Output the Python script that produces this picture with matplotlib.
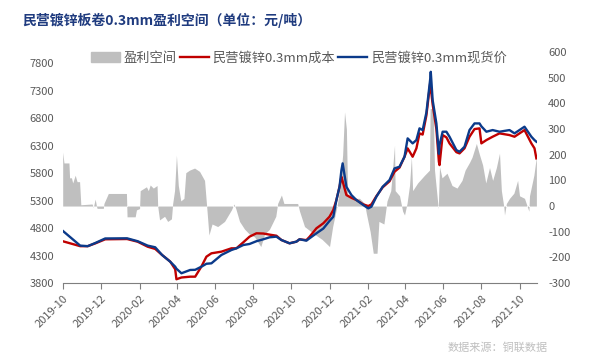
import numpy as np
import pandas as pd
import matplotlib.pyplot as plt
import matplotlib.dates as mdates
from matplotlib.patches import Patch
from matplotlib.lines import Line2D

plt.rcParams['font.family'] = ['Noto Sans CJK SC', 'DejaVu Sans']
plt.rcParams['axes.unicode_minus'] = False

# 成本与现货价（元/吨）
line_dates = ['2019-10-01', '2019-10-29', '2019-11-10', '2019-11-22', '2019-12-08',
              '2020-01-12', '2020-01-29', '2020-02-14', '2020-02-26', '2020-03-08',
              '2020-03-21', '2020-03-29', '2020-03-31', '2020-04-08', '2020-04-22',
              '2020-04-30', '2020-05-10', '2020-05-18', '2020-05-26', '2020-06-11',
              '2020-06-27', '2020-07-05', '2020-07-16', '2020-07-26', '2020-08-06',
              '2020-08-17', '2020-08-27', '2020-09-07', '2020-09-15', '2020-09-28',
              '2020-10-09', '2020-10-14', '2020-10-25', '2020-10-30', '2020-11-10',
              '2020-11-21', '2020-12-01', '2020-12-07', '2020-12-12', '2020-12-17',
              '2020-12-20', '2020-12-22', '2020-12-28', '2021-01-05', '2021-01-13',
              '2021-01-24', '2021-02-01', '2021-02-06', '2021-02-14', '2021-02-24',
              '2021-03-07', '2021-03-15', '2021-03-23', '2021-03-31', '2021-04-05',
              '2021-04-13', '2021-04-19', '2021-04-24', '2021-04-29', '2021-05-05',
              '2021-05-11', '2021-05-12', '2021-05-15', '2021-05-21', '2021-05-25',
              '2021-05-26', '2021-05-31', '2021-06-06', '2021-06-11', '2021-06-22',
              '2021-06-27', '2021-07-05', '2021-07-13', '2021-07-21', '2021-07-29',
              '2021-08-01', '2021-08-09', '2021-08-19', '2021-08-30', '2021-09-15',
              '2021-09-23', '2021-10-09', '2021-10-20', '2021-10-25', '2021-10-28']
price = [4750, 4480, 4470, 4527, 4610, 4613, 4560, 4480, 4450, 4310,
         4188, 4097, 4060, 3977, 4037, 4040, 4097, 4150, 4158, 4310,
         4400, 4431, 4491, 4510, 4560, 4595, 4631, 4643, 4582, 4522,
         4552, 4595, 4570, 4613, 4704, 4790, 4930, 5006, 5309, 5551,
         5850, 5976, 5551, 5400, 5309, 5218, 5158, 5188, 5370, 5551,
         5673, 5885, 5915, 6097, 6431, 6340, 6400, 6613, 6582, 6900,
         7500, 7642, 7127, 6703, 6150, 6310, 6552, 6552, 6461, 6218,
         6188, 6279, 6582, 6703, 6703, 6650, 6552, 6582, 6552, 6582,
         6522, 6643, 6461, 6400, 6370]
cost = [4560, 4470, 4470, 4520, 4595, 4600, 4551, 4460, 4420, 4310,
        4190, 4050, 3868, 3900, 3915, 3915, 4100, 4279, 4340, 4370,
        4431, 4431, 4540, 4643, 4704, 4700, 4680, 4660, 4582, 4522,
        4552, 4595, 4580, 4640, 4795, 4886, 5006, 5128, 5309, 5551,
        5733, 5650, 5400, 5350, 5309, 5230, 5200, 5230, 5380, 5540,
        5650, 5824, 5900, 6097, 6249, 6097, 6249, 6522, 6500, 6850,
        7430, 7350, 7050, 6600, 6006, 5945, 6491, 6450, 6340, 6180,
        6158, 6250, 6461, 6600, 6613, 6340, 6400, 6461, 6522, 6491,
        6461, 6582, 6340, 6250, 6067]

# 盈利空间（元/吨，右轴）
profit_dates = ['2019-10-01', '2019-10-03', '2019-10-11', '2019-10-12', '2019-10-15',
                '2019-10-17', '2019-10-21', '2019-10-24', '2019-10-28', '2019-10-30',
                '2019-11-17', '2019-11-19', '2019-11-22', '2019-11-24', '2019-11-25',
                '2019-12-05', '2019-12-06', '2019-12-13', '2020-01-11', '2020-01-12',
                '2020-01-25', '2020-01-27', '2020-02-01', '2020-02-02', '2020-02-12',
                '2020-02-15', '2020-02-18', '2020-02-23', '2020-02-29', '2020-03-01',
                '2020-03-04', '2020-03-12', '2020-03-17', '2020-03-23', '2020-03-25',
                '2020-03-28', '2020-03-31', '2020-04-03', '2020-04-07', '2020-04-12',
                '2020-04-15', '2020-04-21', '2020-04-29', '2020-05-07', '2020-05-15',
                '2020-05-19', '2020-05-22', '2020-05-27', '2020-06-05', '2020-06-16',
                '2020-06-27', '2020-07-01', '2020-07-04', '2020-07-10', '2020-07-18',
                '2020-07-26', '2020-08-03', '2020-08-13', '2020-08-19', '2020-08-27',
                '2020-09-06', '2020-09-09', '2020-09-15', '2020-09-19', '2020-10-11',
                '2020-10-14', '2020-10-22', '2020-11-07', '2020-11-19', '2020-12-01',
                '2020-12-06', '2020-12-13', '2020-12-17', '2020-12-22', '2020-12-25',
                '2020-12-28', '2020-12-30', '2021-01-10', '2021-01-18', '2021-01-26',
                '2021-01-29', '2021-02-04', '2021-02-09', '2021-02-15', '2021-02-18',
                '2021-02-26', '2021-03-03', '2021-03-09', '2021-03-15', '2021-03-16',
                '2021-03-23', '2021-03-28', '2021-03-31', '2021-04-04', '2021-04-08',
                '2021-04-11', '2021-04-13', '2021-04-21', '2021-05-02', '2021-05-10',
                '2021-05-11', '2021-05-16', '2021-05-18', '2021-05-24', '2021-05-26',
                '2021-05-30', '2021-06-07', '2021-06-15', '2021-06-23', '2021-07-01',
                '2021-07-06', '2021-07-13', '2021-07-17', '2021-07-24', '2021-07-29',
                '2021-08-03', '2021-08-08', '2021-08-14', '2021-08-19', '2021-08-25',
                '2021-08-30', '2021-09-02', '2021-09-06', '2021-09-07', '2021-09-10',
                '2021-09-15', '2021-09-22', '2021-09-28', '2021-10-01', '2021-10-09',
                '2021-10-16', '2021-10-17', '2021-10-24', '2021-10-28']
profit = [210, 168, 168, 110, 110, 90, 120, 95, 95, 5,
          8, -5, 27, 0, -9, -9, 10, 49, 49, -42,
          -42, -15, -10, 60, 75, 60, 82, 70, 80, 0,
          -54, -40, -60, -50, 10, 60, 198, 80, 20, 30,
          130, 140, 148, 135, 100, -20, -113, -70, -80, -60,
          -15, 8, -10, -60, -90, -110, -120, -158, -110, -90,
          -40, 10, 43, 10, 10, -20, -80, -110, -130, -158,
          -80, 0, 60, 200, 367, 300, 40, 30, 30, 10,
          -30, -100, -184, -184, -60, -70, 20, 60, 237, 60,
          40, -20, -35, 10, 80, 192, 60, 90, 120, 140,
          380, 380, 140, -10, 153, 110, 128, 80, 70, 100,
          140, 170, 190, 244, 200, 160, 90, 150, 100, 150,
          206, 60, -5, -35, 10, 30, 50, 100, 40, 30,
          -20, 40, 120, 192]

left_ticks = [3800, 4300, 4800, 5300, 5800, 6300, 6800, 7300, 7800]
right_ticks = [-300, -200, -100, 0, 100, 200, 300, 400, 500, 600]

ld = pd.to_datetime(line_dates)
pd_ = pd.to_datetime(profit_dates)

fig = plt.figure(figsize=(6, 3.63), dpi=100)
ax = fig.add_axes([0.1045, 0.2204, 0.7905, 0.636])
ax2 = ax.twinx()

ax2.fill_between(pd_, 0, profit, color='#BFBFBF', linewidth=0)
ax.plot(ld, cost, color='#C00000', linewidth=1.7)
ax.plot(ld, price, color='#0B3A8A', linewidth=1.7)

ax.set_zorder(ax2.get_zorder() + 1)
ax.patch.set_visible(False)

ax.set_ylim(3800, 8000)
ax.set_yticks(left_ticks)
ax2.set_ylim(-300, 600)
ax2.set_yticks(right_ticks)
ax.set_xlim(pd.Timestamp('2019-10-01'), pd.Timestamp('2021-10-29'))

ax.xaxis.set_major_locator(mdates.MonthLocator(bymonth=[2, 4, 6, 8, 10, 12]))
ax.xaxis.set_major_formatter(mdates.DateFormatter('%Y-%m'))
for lab in ax.get_xticklabels():
    lab.set_rotation(45)
    lab.set_ha('right')
    lab.set_rotation_mode('anchor')

for a in (ax, ax2):
    for s in a.spines.values():
        s.set_visible(False)
ax.spines['bottom'].set_visible(True)
ax.spines['bottom'].set_color('#7F7F7F')
ax.tick_params(axis='x', colors='#7F7F7F', labelcolor='#595959', labelsize=8, length=4)
ax.tick_params(axis='y', length=0, labelcolor='#595959', labelsize=8, pad=6)
ax2.tick_params(axis='y', length=0, labelcolor='#595959', labelsize=8, pad=8)

handles = [Patch(color='#BFBFBF'),
           Line2D([], [], color='#C00000', linewidth=1.7),
           Line2D([], [], color='#0B3A8A', linewidth=1.7)]
labels = ['盈利空间', '民营镀锌0.3mm成本', '民营镀锌0.3mm现货价']
fig.legend(handles, labels, loc='center', bbox_to_anchor=(0.498, 0.84), ncol=3,
           frameon=False, fontsize=9.5, handlelength=2.2, handletextpad=0.3,
           columnspacing=0.2, labelcolor='#595959')

fig.text(0.037, 0.945, '民营镀锌板卷0.3mm盈利空间（单位：元/吨）', fontsize=10,
         fontweight='bold', color='#1F3B7F', va='center')
fig.text(0.913, 0.043, '数据来源：铜联数据', fontsize=8, color='#BFBFBF',
         ha='right', va='center')

fig.savefig('out.png', dpi=100)
